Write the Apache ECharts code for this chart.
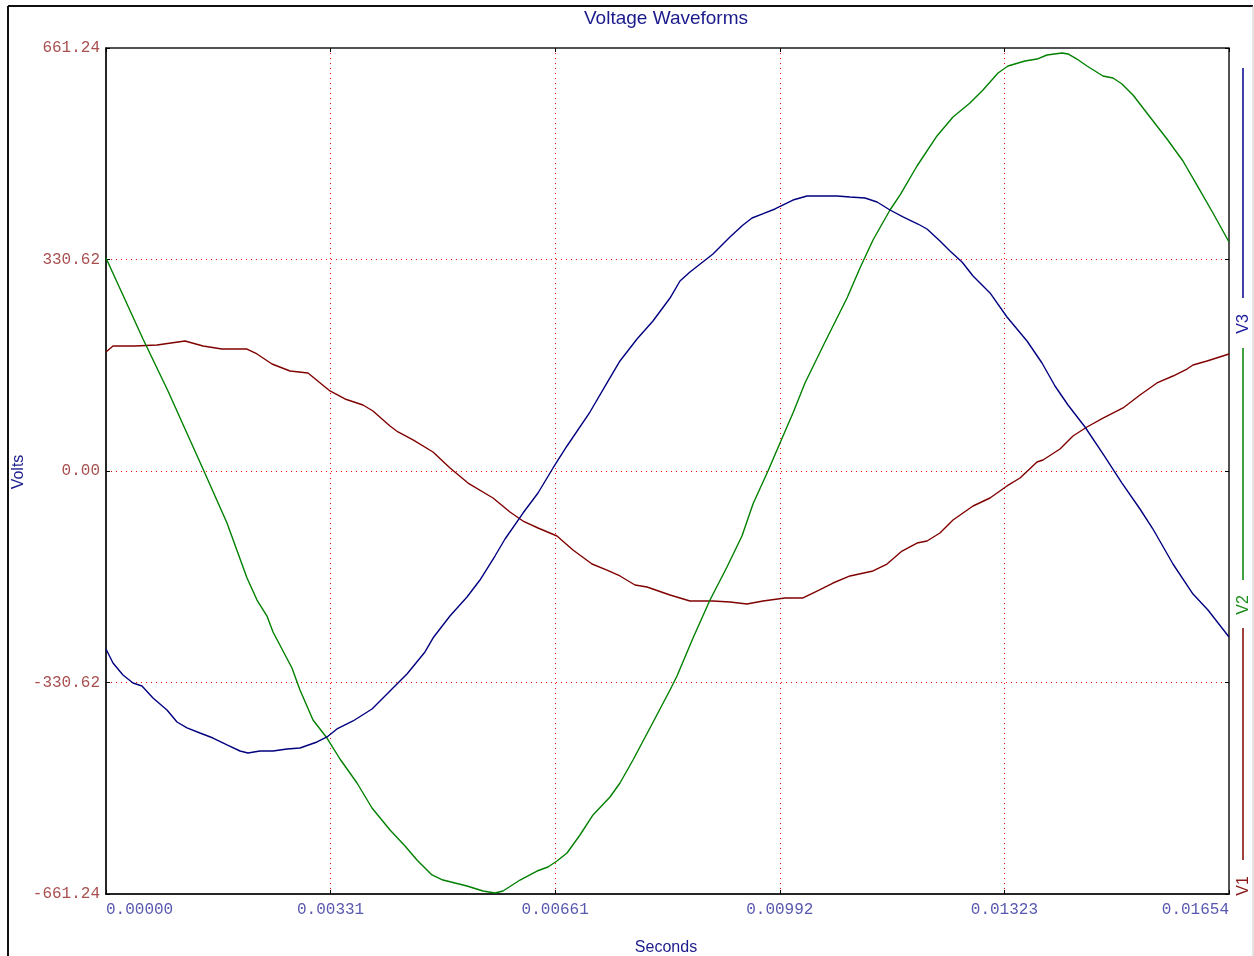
<!DOCTYPE html>
<html>
<head>
<meta charset="utf-8">
<script src="https://cdn.jsdelivr.net/npm/echarts@6/dist/echarts.min.js"></script>
<style>html,body{margin:0;padding:0;background:#fff;}#c{width:1254px;height:956px;}</style>
</head>
<body>
<div id="c"></div>
<script>
// ---- data (time in seconds, voltage in volts) ----
const v1Time = [0,0.000103,0.000427,0.000751,0.001164,0.001429,0.001708,0.002077,0.002224,0.002445,0.002710,0.002975,0.003299,0.003520,0.003785,0.003932,0.004183,0.004301,0.004522,0.004816,0.005067,0.005332,0.005700,0.005950,0.006142,0.006363,0.006642,0.006878,0.007158,0.007379,0.007570,0.007791,0.007968,0.008307,0.008601,0.008940,0.009190,0.009441,0.009677,0.010000,0.010266,0.010472,0.010708,0.010958,0.011297,0.011503,0.011724,0.011945,0.012092,0.012283,0.012475,0.012770,0.013020,0.013270,0.013462,0.013712,0.013800,0.014051,0.014242,0.014448,0.014684,0.014979,0.015229,0.015479,0.015715,0.015921,0.016010,0.016216,0.016540];
const v1Volts = [186.0,195.4,195.4,197.0,203.2,195.4,190.7,190.7,182.9,167.3,156.3,153.2,125.1,112.6,103.2,93.8,70.3,61.0,48.5,29.7,4.7,-18.8,-42.2,-64.1,-78.2,-89.1,-101.6,-123.5,-145.4,-154.8,-164.1,-178.2,-181.3,-193.8,-203.2,-203.2,-204.8,-207.9,-203.2,-198.5,-198.5,-187.6,-175.1,-164.1,-156.3,-145.4,-125.1,-112.6,-109.4,-96.9,-76.6,-54.7,-42.2,-23.4,-10.9,14.1,17.2,34.4,54.7,68.8,82.8,98.5,118.8,137.6,148.5,159.4,165.7,172.0,182.9];

const v2Time = [0,0.000545,0.000913,0.001237,0.001429,0.001782,0.002077,0.002224,0.002371,0.002460,0.002739,0.002857,0.003049,0.003255,0.003446,0.003697,0.003918,0.004183,0.004404,0.004580,0.004801,0.004963,0.005317,0.005553,0.005729,0.005847,0.006098,0.006348,0.006510,0.006642,0.006790,0.006981,0.007173,0.007423,0.007570,0.007762,0.008012,0.008307,0.008410,0.008646,0.008896,0.009146,0.009367,0.009529,0.009750,0.009927,0.010118,0.010295,0.010590,0.010914,0.011105,0.011297,0.011547,0.011694,0.011945,0.012239,0.012475,0.012725,0.012917,0.013138,0.013285,0.013535,0.013712,0.013859,0.014080,0.014169,0.014301,0.014448,0.014684,0.014831,0.014964,0.015126,0.015376,0.015627,0.015862,0.016083,0.016304,0.016540];
const v2Volts = [333.0,206.3,125.1,48.5,3.1,-81.3,-167.3,-201.7,-226.7,-251.7,-308.0,-342.3,-389.2,-417.4,-450.2,-487.7,-526.8,-561.2,-586.2,-608.1,-631.5,-639.4,-648.7,-656.5,-659.7,-656.5,-639.4,-625.3,-619.0,-609.7,-597.1,-569.0,-537.7,-509.6,-487.7,-451.8,-401.7,-342.3,-320.5,-261.1,-201.7,-150.1,-101.6,-51.6,0.0,43.8,90.7,137.6,201.7,270.4,317.3,361.1,408.0,431.4,476.8,523.7,553.4,575.3,595.6,622.2,633.1,640.9,644.0,650.3,653.4,651.9,644.0,633.1,617.5,614.3,605.0,587.8,553.4,519.0,484.6,444.0,403.3,358.0];

const v3Time = [0,0.000103,0.000250,0.000398,0.000530,0.000692,0.000898,0.001046,0.001193,0.001384,0.001576,0.001782,0.001974,0.002091,0.002268,0.002460,0.002666,0.002857,0.003108,0.003255,0.003402,0.003638,0.003918,0.004183,0.004433,0.004698,0.004816,0.005066,0.005317,0.005508,0.005729,0.005877,0.006142,0.006363,0.006584,0.006790,0.007128,0.007379,0.007570,0.007821,0.008056,0.008307,0.008454,0.008601,0.008940,0.009190,0.009382,0.009515,0.009662,0.009853,0.010118,0.010325,0.010516,0.010766,0.010958,0.011179,0.011356,0.011547,0.011738,0.011959,0.012092,0.012283,0.012431,0.012608,0.012770,0.013020,0.013270,0.013565,0.013786,0.013977,0.014169,0.014419,0.014684,0.014964,0.015229,0.015420,0.015715,0.016010,0.016230,0.016540];
const v3Volts = [-278.3,-300.1,-318.9,-331.4,-336.1,-354.8,-373.6,-392.4,-401.7,-409.6,-417.4,-428.3,-437.7,-440.8,-437.7,-437.7,-434.6,-433.0,-423.6,-415.8,-403.3,-390.8,-372.0,-343.9,-317.3,-282.9,-261.1,-226.7,-197.0,-170.4,-132.9,-106.3,-65.7,-34.4,4.7,39.1,92.2,137.6,172.0,206.3,234.5,270.4,297.0,311.1,339.2,365.8,384.5,395.5,401.7,409.6,423.6,429.9,429.9,429.9,428.3,426.8,420.5,408.0,397.1,386.1,378.3,359.5,343.9,326.7,304.8,278.3,240.7,203.2,168.8,132.9,103.2,68.8,26.6,-18.8,-59.4,-90.7,-145.4,-192.3,-217.3,-259.5];

const seriesNames = ['V1','V2','V3'];
const xTickLabels = ['0.00000','0.00331','0.00661','0.00992','0.01323','0.01654'];
const yTickLabels = ['-661.24','-330.62','0.00','330.62','661.24'];
const xMax = 0.01654;
const yMax = 661.24;
const yStep = 330.62;

// ---- styles ----
const lineColors = ['#800000','#008000','#000080'];
const legendLineColors = ['#a04040','#40a040','#4040a8'];
const legendTextColors = ['#8b1a1a','#1a8c1a','#1a1a9c'];
const monoFont = '"Liberation Mono", "DejaVu Sans Mono", monospace';
const sansFont = '"Liberation Sans", Arial, sans-serif';

function zip(t, v) { return t.map((x, i) => [x, v[i]]); }

const chart = echarts.init(document.getElementById('c'), null, {renderer: 'canvas'});

const gridLine = {show: true, showMinLine: false, showMaxLine: false,
                  lineStyle: {color: '#ff0000', type: [1, 4], width: 1}};
const tickStyle = {show: true, inside: true, length: 4, lineStyle: {color: '#000'}};

const option = {
  animation: false,
  backgroundColor: '#ffffff',
  grid: {left: 106, top: 48, right: 25, bottom: 62, outerBoundsMode: 'none', containLabel: false,
         show: true, borderColor: '#1a1a1a', borderWidth: 1.5, backgroundColor: 'transparent'},
  xAxis: [{
    type: 'value', min: 0, max: xMax, interval: xMax / 5, position: 'bottom',
    axisLine: {show: true, onZero: false, lineStyle: {color: '#1a1a1a', width: 1.5}},
    axisTick: tickStyle,
    splitLine: gridLine,
    axisLabel: {
      margin: 8, color: '#5858b0', fontFamily: monoFont, fontSize: 16,
      alignMinLabel: 'left', alignMaxLabel: 'right',
      formatter: function (v) { const i = Math.round(v / (xMax / 5)); return xTickLabels[i]; }
    }
  }, {
    type: 'value', min: 0, max: xMax, interval: xMax / 5, position: 'top',
    axisLine: {show: false, onZero: false}, axisLabel: {show: false}, splitLine: {show: false},
    axisTick: tickStyle
  }],
  yAxis: [{
    type: 'value', min: -yMax, max: yMax, interval: yStep, position: 'left',
    axisLine: {show: true, onZero: false, lineStyle: {color: '#1a1a1a', width: 1.5}},
    axisTick: tickStyle,
    splitLine: gridLine,
    axisLabel: {
      margin: 6, color: '#a85050', fontFamily: monoFont, fontSize: 16,
      formatter: function (v) { const i = Math.round(v / yStep) + 2; return yTickLabels[i]; }
    }
  }, {
    type: 'value', min: -yMax, max: yMax, interval: yStep, position: 'right',
    axisLine: {show: false, onZero: false}, axisLabel: {show: false}, splitLine: {show: false},
    axisTick: tickStyle
  }],
  series: [
    {name: seriesNames[0], type: 'line', data: zip(v1Time, v1Volts), showSymbol: false, symbol: 'none',
     lineStyle: {color: lineColors[0], width: 1.4}, itemStyle: {color: lineColors[0]}, z: 3},
    {name: seriesNames[1], type: 'line', data: zip(v2Time, v2Volts), showSymbol: false, symbol: 'none',
     lineStyle: {color: lineColors[1], width: 1.4}, itemStyle: {color: lineColors[1]}, z: 3},
    {name: seriesNames[2], type: 'line', data: zip(v3Time, v3Volts), showSymbol: false, symbol: 'none',
     lineStyle: {color: lineColors[2], width: 1.4}, itemStyle: {color: lineColors[2]}, z: 3}
  ],
  graphic: [
    // outer frame
    {type: 'line', shape: {x1: 8, y1: 6, x2: 1253, y2: 6}, style: {stroke: '#111', lineWidth: 2}, silent: true},
    {type: 'line', shape: {x1: 8, y1: 6, x2: 8, y2: 956}, style: {stroke: '#111', lineWidth: 2}, silent: true},
    {type: 'line', shape: {x1: 1253, y1: 6, x2: 1253, y2: 956}, style: {stroke: '#c8c8c8', lineWidth: 1}, silent: true},
    // title
    {type: 'text', x: 666, y: 19, silent: true,
     style: {text: 'Voltage Waveforms', fill: '#1a1a8c', font: '19px ' + sansFont, align: 'center', verticalAlign: 'middle'}},
    // axis names
    {type: 'text', x: 666, y: 948, silent: true,
     style: {text: 'Seconds', fill: '#1a1a8c', font: '16px ' + sansFont, align: 'center', verticalAlign: 'middle'}},
    {type: 'text', x: 19, y: 472, rotation: Math.PI / 2, silent: true,
     style: {text: 'Volts', fill: '#1a1a8c', font: '16px ' + sansFont, align: 'center', verticalAlign: 'middle'}},
    // legend V3
    {type: 'line', shape: {x1: 1243, y1: 68, x2: 1243, y2: 298}, style: {stroke: legendLineColors[2], lineWidth: 2}, silent: true},
    {type: 'text', x: 1244, y: 324, rotation: Math.PI / 2, silent: true,
     style: {text: seriesNames[2], fill: legendTextColors[2], font: '16px ' + sansFont, align: 'center', verticalAlign: 'middle'}},
    // legend V2
    {type: 'line', shape: {x1: 1243, y1: 348, x2: 1243, y2: 580}, style: {stroke: legendLineColors[1], lineWidth: 2}, silent: true},
    {type: 'text', x: 1244, y: 605, rotation: Math.PI / 2, silent: true,
     style: {text: seriesNames[1], fill: legendTextColors[1], font: '16px ' + sansFont, align: 'center', verticalAlign: 'middle'}},
    // legend V1
    {type: 'line', shape: {x1: 1243, y1: 628, x2: 1243, y2: 860}, style: {stroke: legendLineColors[0], lineWidth: 2}, silent: true},
    {type: 'text', x: 1244, y: 886, rotation: Math.PI / 2, silent: true,
     style: {text: seriesNames[0], fill: legendTextColors[0], font: '16px ' + sansFont, align: 'center', verticalAlign: 'middle'}}
  ]
};
chart.setOption(option);
</script>
</body>
</html>
